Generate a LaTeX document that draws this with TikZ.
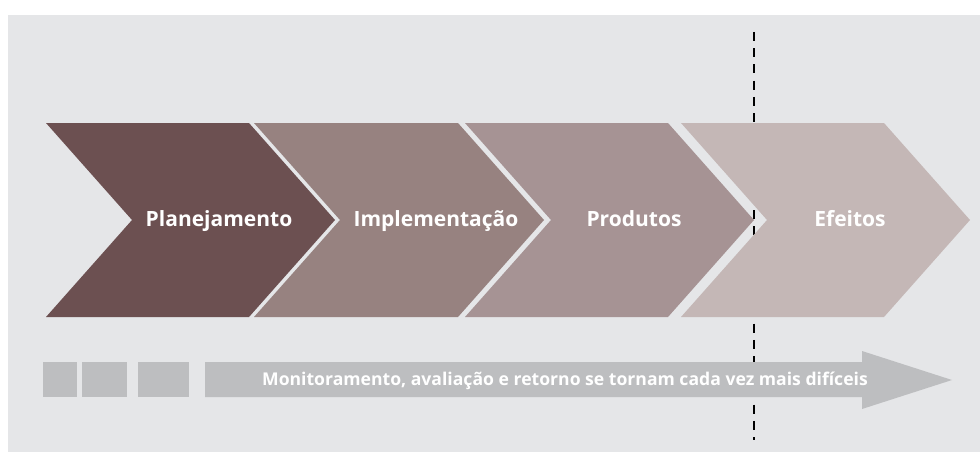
\documentclass[tikz,border=0pt]{standalone}
\usepackage{fontspec}
\setmainfont{Open Sans}
\definecolor{bgc}{HTML}{E5E6E8}
\definecolor{cA}{HTML}{6C5051}
\definecolor{cB}{HTML}{978280}
\definecolor{cC}{HTML}{A69394}
\definecolor{cD}{HTML}{C4B7B6}
\definecolor{barc}{HTML}{BDBEC0}
\begin{document}
\begin{tikzpicture}[x=1pt,y=-1pt,
  lbl/.style={text=white, font=\bfseries\fontsize{21}{21}\selectfont, anchor=base, inner sep=0pt},
  small/.style={text=white, font=\bfseries\fontsize{17.6}{17.6}\selectfont, anchor=base, inner sep=0pt},
  dashline/.style={line width=2pt, dash pattern=on 9pt off 7.2pt, black}]
\useasboundingbox (0,0) rectangle (980,452);
\fill[white] (0,0) rectangle (980,452);
\fill[bgc] (8,15) rectangle (980,452);
% dashed divider
\coordinate (dtop) at (754,32);
\coordinate (dbot) at (754,440);
\draw[dashline] (dtop) -- (dbot);
% chevrons
\fill[cA] (46,123) -- (249,123) -- (335,220) -- (249,317) -- (46,317) -- (132,220) -- cycle;
\fill[cB] (254,123) -- (458,123) -- (544,220) -- (458,317) -- (254,317) -- (340,220) -- cycle;
\fill[cC] (465,123) -- (668,123) -- (754,220) -- (668,317) -- (465,317) -- (551,220) -- cycle;
\fill[cD] (681,123) -- (884,123) -- (970,220) -- (884,317) -- (681,317) -- (767,220) -- cycle;
\node[lbl] (t1) at (219,226.5) {Planejamento};
\node[lbl] (t2) at (436,226.5) {Implementação};
\node[lbl] (t3) at (634,226.5) {Produtos};
\node[lbl] (t4) at (850,226.5) {Efeitos};
% bottom squares and arrow
\fill[barc] (43,362) rectangle (77,397);
\fill[barc] (82,362) rectangle (127,397);
\fill[barc] (138,362) rectangle (189,397);
\fill[barc] (205,362) -- (862,362) -- (862,351) -- (952,380) -- (862,409) -- (862,397) -- (205,397) -- cycle;
\node[small] (mtxt) at (565,385) {Monitoramento, avaliação e retorno se tornam cada vez mais difíceis};
\end{tikzpicture}
\end{document}
